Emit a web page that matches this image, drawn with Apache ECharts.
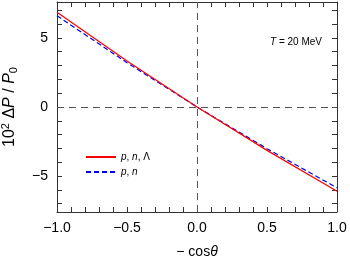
<!DOCTYPE html>
<html>
<head>
<meta charset="utf-8">
<script src="https://cdn.jsdelivr.net/npm/echarts@6/dist/echarts.min.js"></script>
<style>html,body{margin:0;padding:0;background:#fff}#c{width:350px;height:259px}</style>
</head>
<body>
<div id="c"></div>
<script>
const xValues = [-1.0, -0.5, 0.0, 0.5, 1.0];
const pnLambda = [6.85, 3.33, 0.0, -3.14, -6.1];
const pn = [6.6, 3.21, 0.0, -3.02, -5.85];
const xTickLabels = [-1.0, -0.5, 0.0, 0.5, 1.0];
const xMinorTicks = [-1,-0.9,-0.8,-0.7,-0.6,-0.5,-0.4,-0.3,-0.2,-0.1,0,0.1,0.2,0.3,0.4,0.5,0.6,0.7,0.8,0.9,1];
const yTickLabels = [-5, 0, 5];
const yMinorTicks = [-7,-6,-5,-4,-3,-2,-1,0,1,2,3,4,5,6,7];
const seriesNames = ['pnL', 'pn'];

const FONT = 'Liberation Sans';
const AX = '#333';
const fmtNum = v => {
  const s = Math.abs(v).toFixed(1);
  return v < -1e-9 ? '\u2212' + s : s;
};

function xAxisDef(pos, labels) {
  return {
    type: 'value', position: pos, min: -1, max: 1,
    axisLine: { show: true, onZero: false, lineStyle: { color: AX, width: 1 } },
    axisTick: { show: true, inside: true, length: 5, customValues: xMinorTicks, lineStyle: { color: AX } },
    axisLabel: labels ? { show: true, customValues: xTickLabels, formatter: fmtNum, fontFamily: FONT, fontSize: 14, color: '#000', margin: 9 } : { show: false },
    splitLine: { show: false }
  };
}
function yAxisDef(pos, labels) {
  return {
    type: 'value', position: pos, min: -7.6, max: 7.6,
    axisLine: { show: true, onZero: false, lineStyle: { color: AX, width: 1 } },
    axisTick: { show: true, inside: true, length: 5, customValues: yMinorTicks, lineStyle: { color: AX } },
    axisLabel: labels ? { show: true, customValues: yTickLabels, formatter: v => (v < 0 ? '\u2212' + Math.abs(v) : String(v)), fontFamily: FONT, fontSize: 14, color: '#000', margin: 9 } : { show: false },
    splitLine: { show: false }
  };
}

const chart = echarts.init(document.getElementById('c'), null, { renderer: 'canvas' });
const xa = xAxisDef('bottom', true);
xa.name = '{n|\u2212 cos}{i|\u03b8}';
xa.nameLocation = 'middle';
xa.nameGap = 33;
xa.nameTextStyle = { fontFamily: FONT, fontSize: 14, color: '#000', rich: { n: { fontFamily: FONT, fontSize: 14 }, i: { fontFamily: FONT, fontSize: 14, fontStyle: 'italic' } } };
const ya = yAxisDef('left', true);
ya.name = '{n|10}{sup|2}{n| \u0394}{i|P}{n| / }{i|P}{sub|0}';
ya.nameLocation = 'middle';
ya.nameGap = 38;
ya.nameRotate = 90;
ya.nameTextStyle = { fontFamily: FONT, fontSize: 16, color: '#000', rich: {
  n: { fontFamily: FONT, fontSize: 16 },
  i: { fontFamily: FONT, fontSize: 16, fontStyle: 'italic' },
  sup: { fontFamily: FONT, fontSize: 11, verticalAlign: 'top', padding: [0,0,8,0] },
  sub: { fontFamily: FONT, fontSize: 11, verticalAlign: 'bottom', padding: [8,0,0,0] }
} };

const richLegend = { i: { fontFamily: FONT, fontSize: 10, fontStyle: 'italic', color: '#000' }, n: { fontFamily: FONT, fontSize: 10, color: '#000' } };

chart.setOption({
  animation: false,
  grid: { left: 57, right: 13, top: 2, bottom: 47, containLabel: false, outerBoundsMode: 'none' },
  xAxis: [xa, xAxisDef('top', false)],
  yAxis: [ya, yAxisDef('right', false)],
  legend: {
    show: true,
    orient: 'vertical', left: 80, top: 147, itemWidth: 30, itemHeight: 10, itemGap: 5,
    data: seriesNames,
    itemStyle: { opacity: 0 },
    formatter: name => name === 'pnL' ? '{i|p}{n|, }{i|n}{n|, \u039b}' : '{i|p}{n|, }{i|n}',
    textStyle: { fontFamily: FONT, fontSize: 10, color: '#000', rich: richLegend }
  },
  graphic: [{
    type: 'text', left: 270, top: 37,
    style: { text: '{i|T}{n| = 20 MeV}', rich: { i: { fontFamily: FONT, fontSize: 10, fontStyle: 'italic', fill: '#000' }, n: { fontFamily: FONT, fontSize: 10, fill: '#000' } } }
  }],
  series: [
    {
      name: seriesNames[0], type: 'line', xAxisIndex: 0, yAxisIndex: 0, showSymbol: false, symbol: 'none',
      data: xValues.map((x, i) => [x, pnLambda[i]]),
      lineStyle: { color: '#ff0000', width: 1.2 }, itemStyle: { color: '#ff0000' },
      z: 4,
      markLine: {
        silent: true, symbol: 'none', label: { show: false },
        lineStyle: { color: '#555', width: 1, type: [7, 5] },
        data: [{ xAxis: 0 }, { yAxis: 0 }]
      }
    },
    {
      name: seriesNames[1], type: 'line', xAxisIndex: 0, yAxisIndex: 0, showSymbol: false, symbol: 'none',
      data: xValues.map((x, i) => [x, pn[i]]),
      lineStyle: { color: '#0000ee', width: 1.2, type: [5, 3] }, itemStyle: { color: '#0000ee' },
      z: 3
    }
  ]
});
</script>
</body>
</html>
